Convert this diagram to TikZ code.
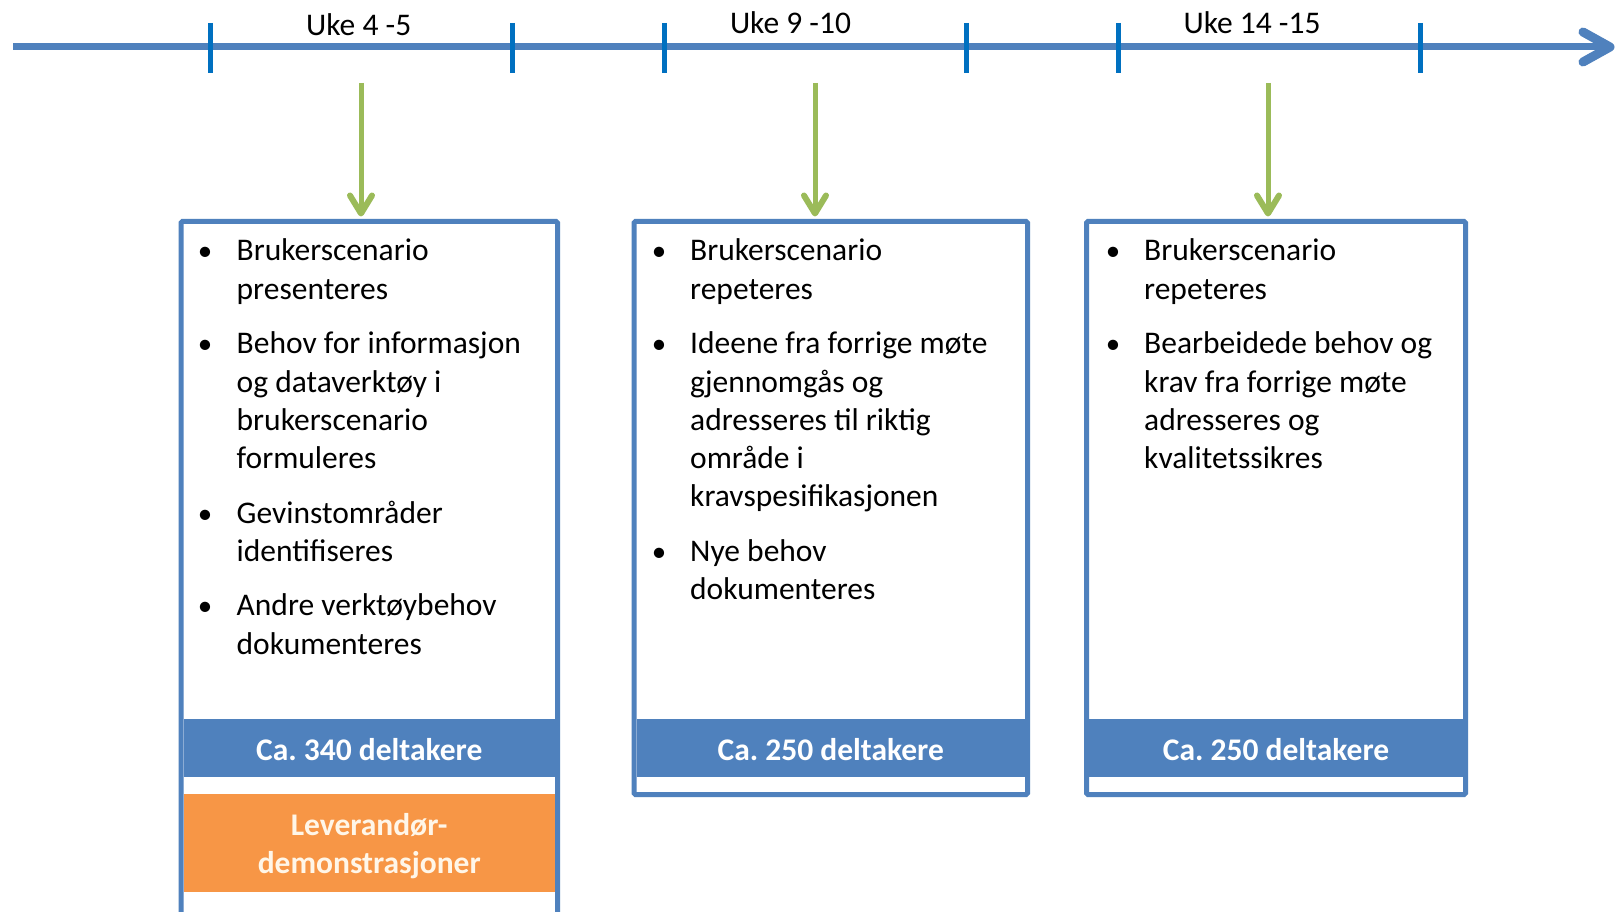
\documentclass[tikz,border=0pt]{standalone}
\usepackage{fontspec}
\setmainfont{Carlito}
\definecolor{tlblue}{HTML}{4F81BD}
\definecolor{tickblue}{HTML}{0070C0}
\definecolor{agreen}{HTML}{9BBB59}
\definecolor{dorange}{HTML}{F79646}
\definecolor{cream}{HTML}{FFF6E8}
\tikzset{
  txt/.style={anchor=base west, inner sep=0pt, font=\fontsize{31.5}{38}\selectfont},
  bul/.style={anchor=base, inner sep=0pt, font=\fontsize{29}{34}\selectfont},
  wk/.style={anchor=base, inner sep=0pt, font=\fontsize{31.5}{38}\selectfont},
  tickmark/.style={draw=tickblue, line width=5pt},
  timeline/.style={draw=tlblue, line width=7pt},
  tltip/.style={draw=tlblue, line width=9pt, line cap=round, line join=round},
  garrow/.style={draw=agreen, line width=5pt},
  gtip/.style={draw=agreen, line width=6pt, line cap=round, line join=round},
  boxnode/.style={draw=tlblue, line width=5pt, fill=white, rounded corners=1.5pt, inner sep=0pt},
  band/.style={fill=tlblue, inner sep=0pt},
  bandtxt/.style={inner sep=0pt, text=white, font=\bfseries\fontsize{31.5}{38}\selectfont},
  oband/.style={fill=dorange, inner sep=0pt},
  obandtxt/.style={inner sep=0pt, text=cream, align=center, font=\bfseries\fontsize{31.5}{38}\selectfont},
}
\begin{document}
\frenchspacing
\begin{tikzpicture}[x=1pt,y=-1pt]
\clip (0,0) rectangle (1617,912);
\fill[white] (0,0) rectangle (1617,912);

% timeline
\coordinate (tl0) at (13,47);
\coordinate (tl1) at (1610,47);
\draw[timeline] (tl0) -- (tl1);
\draw[tltip] (tl1) ++(-27,-15) -- (tl1) -- ++(-27,15);
\foreach \x/\n in {210/t1,512.5/t2,664/t3,966/t4,1118/t5,1420/t6}{
  \coordinate (\n a) at (\x,23);
  \coordinate (\n b) at (\x,73.5);
  \draw[tickmark] (\n a) -- (\n b);
}
\node[wk] (uke1) at (358.7,36) {Uke 4 -5};
\node[wk] (uke2) at (790.5,34) {Uke 9 -10};
\node[wk] (uke3) at (1252,34) {Uke 14 -15};

% boxes
\node[boxnode, minimum width=376.5pt, minimum height=728.5pt] (box1) at (369.25,585.75) {};
\node[boxnode, minimum width=393.5pt, minimum height=573pt] (box2) at (830.75,508) {};
\node[boxnode, minimum width=379pt, minimum height=573pt] (box3) at (1276,508) {};

% bands
\node[band, minimum width=371.5pt, minimum height=58pt] (band1) at (369.25,748) {};
\node[band, minimum width=388.5pt, minimum height=58pt] (band2) at (830.75,748) {};
\node[band, minimum width=374pt, minimum height=58pt] (band3) at (1276,748) {};
\node[bandtxt] (bt1) at (369.25,749.5) {Ca. 340 deltakere};
\node[bandtxt] (bt2) at (830.75,749.5) {Ca. 250 deltakere};
\node[bandtxt] (bt3) at (1276,749.5) {Ca. 250 deltakere};
\node[oband, minimum width=371.5pt, minimum height=98pt] (demo) at (369.25,843) {};
\node[obandtxt] (demotxt) at (369.25,846.5) {Leverandør-\\demonstrasjoner};

% green arrows
\foreach \x/\n in {361/g1,815/g2,1268/g3}{
  \coordinate (\n) at (\x,83);
  \coordinate (\n e) at (\x,213.5);
  \draw[garrow] (\n) -- (\n e);
  \draw[gtip] (\n e) ++(-11,-18) -- (\n e) -- ++(11,-18);
}

% box 1 text
\node[bul] (b11) at (205,261) {•};
\node[txt] (l11) at (236.5,261) {Brukerscenario};
\node[txt] (l12) at (236.5,299.2) {presenteres};
\node[bul] (b12) at (205,353.8) {•};
\node[txt] (l13) at (236.5,353.8) {Behov for informasjon};
\node[txt] (l14) at (236.5,392) {og dataverktøy i};
\node[txt] (l15) at (236.5,430.2) {brukerscenario};
\node[txt] (l16) at (236.5,468.4) {formuleres};
\node[bul] (b13) at (205,523) {•};
\node[txt] (l17) at (236.5,523) {Gevinstområder};
\node[txt] (l18) at (236.5,561.2) {identifiseres};
\node[bul] (b14) at (205,615.8) {•};
\node[txt] (l19) at (236.5,615.8) {Andre verktøybehov};
\node[txt] (l110) at (236.5,654) {dokumenteres};

% box 2 text
\node[bul] (b21) at (659,261) {•};
\node[txt] (l21) at (690,261) {Brukerscenario};
\node[txt] (l22) at (690,299.2) {repeteres};
\node[bul] (b22) at (659,353.8) {•};
\node[txt] (l23) at (690,353.8) {Ideene fra forrige møte};
\node[txt] (l24) at (690,392) {gjennomgås og};
\node[txt] (l25) at (690,430.2) {adresseres til riktig};
\node[txt] (l26) at (690,468.4) {område i};
\node[txt] (l27) at (690,506.6) {kravspesifikasjonen};
\node[bul] (b23) at (659,561.2) {•};
\node[txt] (l28) at (690,561.2) {Nye behov};
\node[txt] (l29) at (690,599.4) {dokumenteres};

% box 3 text
\node[bul] (b31) at (1113,261) {•};
\node[txt] (l31) at (1144,261) {Brukerscenario};
\node[txt] (l32) at (1144,299.2) {repeteres};
\node[bul] (b32) at (1113,353.8) {•};
\node[txt] (l33) at (1144,353.8) {Bearbeidede behov og};
\node[txt] (l34) at (1144,392) {krav fra forrige møte};
\node[txt] (l35) at (1144,430.2) {adresseres og};
\node[txt] (l36) at (1144,468.4) {kvalitetssikres};
\end{tikzpicture}
\end{document}
